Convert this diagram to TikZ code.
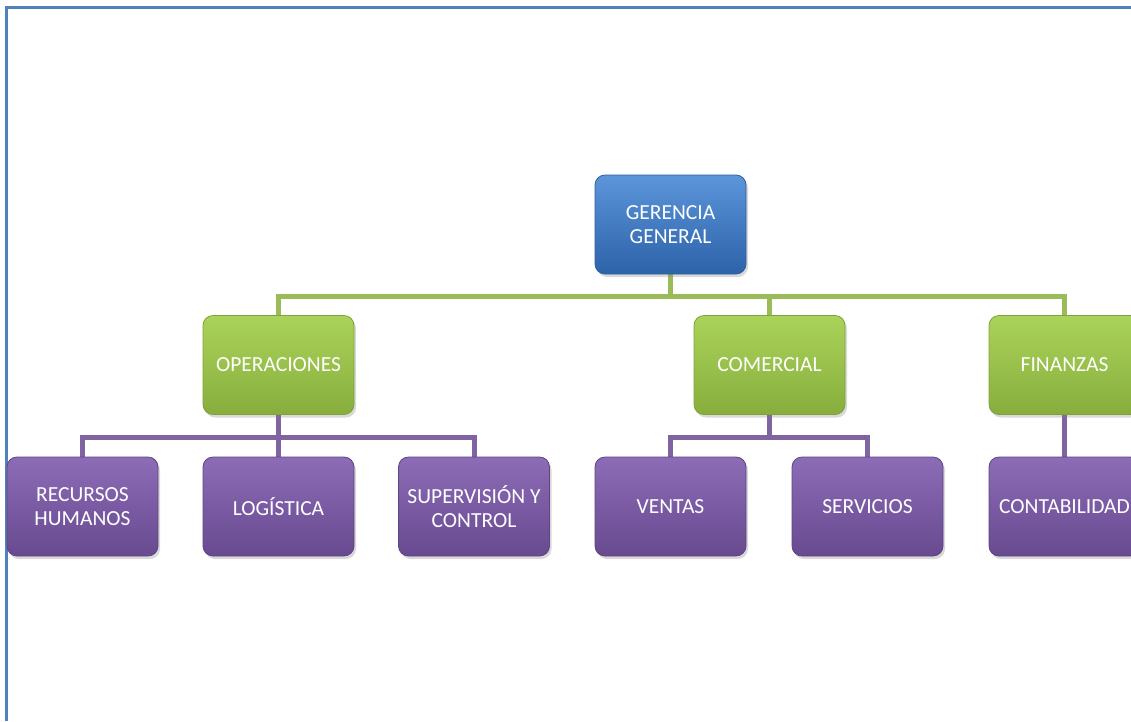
\documentclass[tikz,border=0pt]{standalone}
\usepackage{fontspec}
\setmainfont{Carlito}
\usetikzlibrary{shadows,backgrounds}
\definecolor{frameblue}{HTML}{4F81BD}
\definecolor{gline}{HTML}{9BBB59}
\definecolor{pline}{HTML}{8064A2}
\definecolor{blueD}{HTML}{2F5F9E}
\definecolor{blueT}{HTML}{5C95DA}
\definecolor{blueB}{HTML}{2D63A8}
\definecolor{greenD}{HTML}{7FA336}
\definecolor{greenT}{HTML}{AAD35A}
\definecolor{greenB}{HTML}{87AE3D}
\definecolor{purpleD}{HTML}{5E4483}
\definecolor{purpleT}{HTML}{8C6CB6}
\definecolor{purpleB}{HTML}{684A90}
\tikzset{
  orgbox/.style={rounded corners=10pt, minimum width=151pt, minimum height=99pt,
    text=white, align=center, font=\fontsize{21.5}{24}\selectfont, inner sep=2pt,
    drop shadow={shadow xshift=2pt, shadow yshift=-3pt, opacity=0.3}},
  bluebox/.style={orgbox, draw=blueD, line width=0.8pt,
    top color=blueT, bottom color=blueB},
  greenbox/.style={orgbox, draw=greenD, line width=0.8pt,
    top color=greenT, bottom color=greenB},
  purplebox/.style={orgbox, draw=purpleD, line width=0.8pt,
    top color=purpleT, bottom color=purpleB},
  greenlink/.style={draw=gline, line width=5pt},
  purplelink/.style={draw=pline, line width=5pt},
  framestyle/.style={draw=frameblue, line width=3pt},
}
\begin{document}
\begin{tikzpicture}[x=1pt,y=-1pt]
\useasboundingbox (0,0) rectangle (1131,721);
\coordinate (fa) at (6,721);
\coordinate (fb) at (6,7);
\coordinate (fc) at (1131,7);
\draw[framestyle] (fa) -- (fb) -- (fc);

\node[bluebox] (gg) at (670.5,224.5) {GERENCIA\\GENERAL};

\node[greenbox] (op) at (278.5,365) {OPERACIONES};
\node[greenbox] (com) at (769.5,365) {COMERCIAL};
\node[greenbox] (fin) at (1064.5,365) {FINANZAS};

\node[purplebox] (rh) at (82.5,506.5) {RECURSOS\\HUMANOS};
\node[purplebox] (log) at (278.5,506.5) {LOGÍSTICA};
\node[purplebox] (sup) at (474,506.5) {SUPERVISIÓN Y\\CONTROL};
\node[purplebox] (ven) at (670.5,506.5) {VENTAS};
\node[purplebox] (ser) at (867.5,506.5) {SERVICIOS};
\node[purplebox] (con) at (1064.5,506.5) {CONTABILIDAD};

\coordinate (gb) at (670.5,296);
\coordinate (ob) at (278.5,437);
\coordinate (cb) at (769.5,437);

\begin{scope}[on background layer]
\draw[greenlink] (gg) -- (gb);
\draw[greenlink] (gb) -| (op);
\draw[greenlink] (gb) -| (com);
\draw[greenlink] (gb) -| (fin);
\draw[purplelink] (op) -- (ob) -| (rh);
\draw[purplelink] (ob) -| (sup);
\draw[purplelink] (ob) -- (log);
\draw[purplelink] (com) -- (cb) -| (ven);
\draw[purplelink] (cb) -| (ser);
\draw[purplelink] (fin) -- (con);
\end{scope}
\end{tikzpicture}
\end{document}
